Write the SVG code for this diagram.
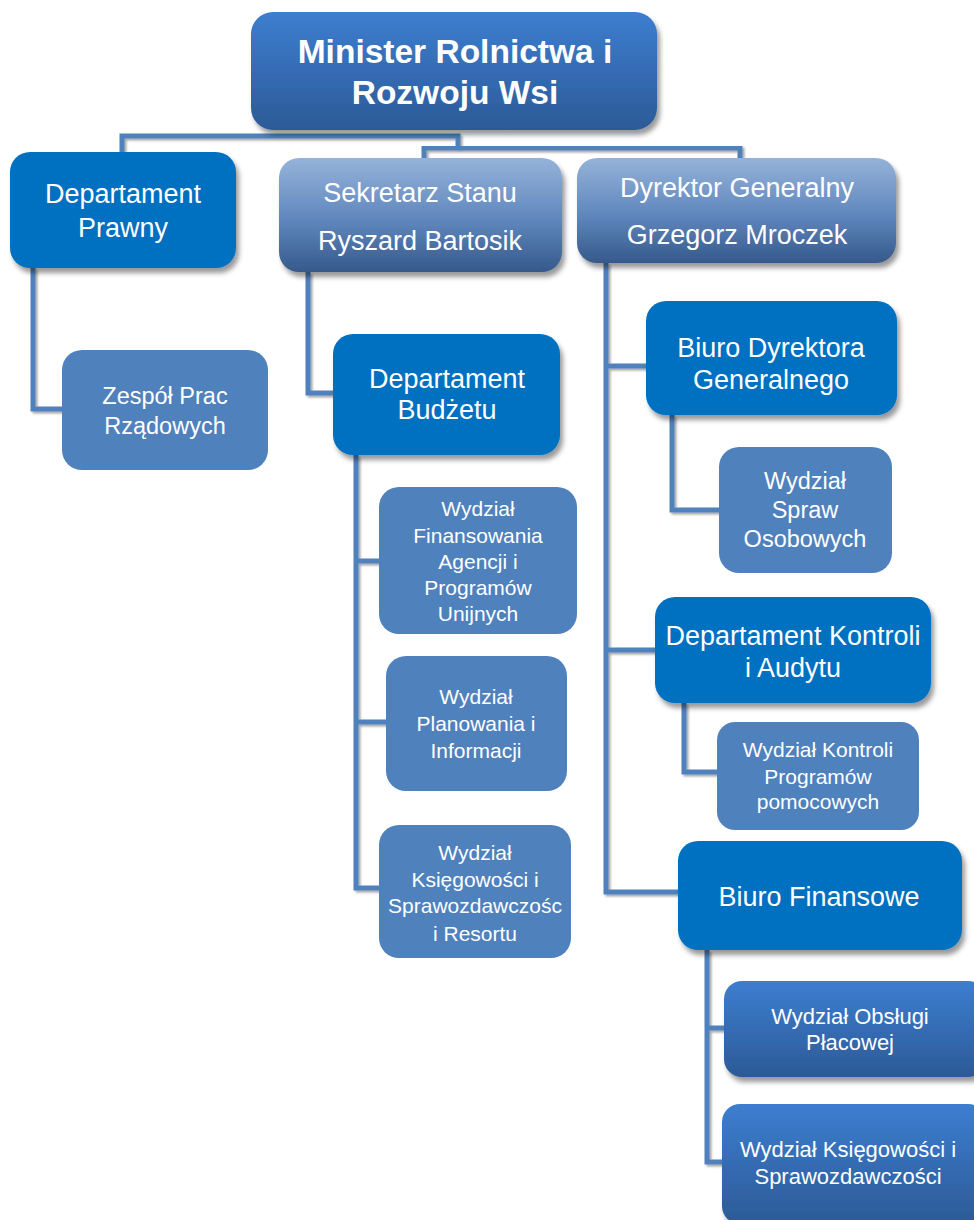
<svg xmlns="http://www.w3.org/2000/svg" width="974" height="1220" viewBox="0 0 974 1220">
<defs>
<linearGradient id="gTop" x1="0" y1="0" x2="0" y2="1">
<stop offset="0" stop-color="#3d7ed0"/><stop offset="1" stop-color="#2c5a97"/>
</linearGradient>
<linearGradient id="gLight" x1="0" y1="0" x2="0" y2="1">
<stop offset="0" stop-color="#95b3d9"/><stop offset="0.55" stop-color="#5f86bd"/><stop offset="1" stop-color="#36598a"/>
</linearGradient>
<filter id="sh" x="-10%" y="-10%" width="125%" height="130%">
<feDropShadow dx="3" dy="5" stdDeviation="2.5" flood-color="#000" flood-opacity="0.4"/>
</filter>
<filter id="lsh" x="-20%" y="-20%" width="140%" height="140%">
<feDropShadow dx="2" dy="2" stdDeviation="1" flood-color="#000" flood-opacity="0.35"/>
</filter>
</defs>
<style>
.ln{fill:none;stroke:#4f81bd;stroke-width:5;filter:url(#lsh)}
.dk{fill:#0070c0;filter:url(#sh)}
.md{fill:#4f81bd}
.gt{fill:url(#gTop);filter:url(#sh)}
.gl{fill:url(#gLight);filter:url(#sh)}
text{font-family:"Liberation Sans",Arial,sans-serif;fill:#fff;text-anchor:middle}
.t1{font-size:33.5px;font-weight:bold}
.t3{font-size:27px}
.t4{font-size:23.5px}
.t5{font-size:21px}
.t6{font-size:22px}
</style>
<rect width="974" height="1220" fill="#fff"/>
<g id="connectors">
<path class="ln" d="M122,153 V136 H458 V148"/>
<path class="ln" d="M424,158 V148 H740 V158"/>
<path class="ln" d="M33,268 V409 H62"/>
<path class="ln" d="M308,272 V393 H333"/>
<path class="ln" d="M356,455 V888 H380 M356,561 H380 M356,722 H386"/>
<path class="ln" d="M606,263 V892 H678 M606,366 H646 M606,650 H656"/>
<path class="ln" d="M672,415 V510 H719"/>
<path class="ln" d="M684,703 V772 H717"/>
<path class="ln" d="M707,950 V1162 H722 M707,1028 H724"/>
</g>
<g id="minister">
<rect class="gt" x="251" y="12" width="406" height="118" rx="22"/>
<text class="t1" x="455" y="63">Minister Rolnictwa i</text>
<text class="t1" x="455" y="104">Rozwoju Wsi</text>
</g>
<g id="dep-prawny">
<rect class="dk" x="10" y="152" width="226" height="116" rx="20"/>
<text class="t3" x="123" y="203">Departament</text>
<text class="t3" x="123" y="237">Prawny</text>
</g>
<g id="sekretarz">
<rect class="gl" x="279" y="158" width="283" height="114" rx="20"/>
<text class="t3" x="420" y="202">Sekretarz Stanu</text>
<text class="t3" x="420" y="250">Ryszard Bartosik</text>
</g>
<g id="dyrektor">
<rect class="gl" x="577" y="158" width="319" height="105" rx="20"/>
<text class="t3" x="737" y="197">Dyrektor Generalny</text>
<text class="t3" x="737" y="244">Grzegorz Mroczek</text>
</g>
<g id="zespol">
<rect class="md" x="62" y="350" width="206" height="120" rx="20"/>
<text class="t4" x="165" y="404">Zespół Prac</text>
<text class="t4" x="165" y="434">Rządowych</text>
</g>
<g id="dep-budzetu">
<rect class="dk" x="333" y="334" width="227" height="121" rx="20"/>
<text class="t3" x="447" y="388">Departament</text>
<text class="t3" x="447" y="419">Budżetu</text>
</g>
<g id="wydz-finansowania">
<rect class="md" x="379" y="487" width="198" height="147" rx="20"/>
<text class="t5" x="478" y="516">Wydział</text>
<text class="t5" x="478" y="543">Finansowania</text>
<text class="t5" x="478" y="569">Agencji i</text>
<text class="t5" x="478" y="595">Programów</text>
<text class="t5" x="478" y="621">Unijnych</text>
</g>
<g id="wydz-planowania">
<rect class="md" x="386" y="656" width="181" height="135" rx="20"/>
<text class="t5" x="476" y="704">Wydział</text>
<text class="t5" x="476" y="731">Planowania i</text>
<text class="t5" x="476" y="758">Informacji</text>
</g>
<g id="wydz-ksiegowosci-resortu">
<rect class="md" x="379" y="825" width="192" height="133" rx="20"/>
<text class="t5" x="475" y="860">Wydział</text>
<text class="t5" x="475" y="887">Księgowości i</text>
<text class="t5" x="475" y="913">Sprawozdawczośc</text>
<text class="t5" x="475" y="941">i Resortu</text>
</g>
<g id="biuro-dyrektora">
<rect class="dk" x="646" y="301" width="251" height="114" rx="20"/>
<text class="t3" x="771" y="357">Biuro Dyrektora</text>
<text class="t3" x="771" y="389">Generalnego</text>
</g>
<g id="wydz-spraw-osobowych">
<rect class="md" x="719" y="447" width="173" height="126" rx="20"/>
<text class="t4" x="805" y="489">Wydział</text>
<text class="t4" x="805" y="518">Spraw</text>
<text class="t4" x="805" y="547">Osobowych</text>
</g>
<g id="dep-kontroli">
<rect class="dk" x="655" y="597" width="276" height="106" rx="20"/>
<text class="t3" x="793" y="645">Departament Kontroli</text>
<text class="t3" x="793" y="677">i Audytu</text>
</g>
<g id="wydz-kontroli">
<rect class="md" x="717" y="722" width="202" height="108" rx="18"/>
<text class="t5" x="818" y="757">Wydział Kontroli</text>
<text class="t5" x="818" y="784">Programów</text>
<text class="t5" x="818" y="809">pomocowych</text>
</g>
<g id="biuro-finansowe">
<rect class="dk" x="678" y="841" width="284" height="109" rx="20"/>
<text class="t3" x="819" y="906">Biuro Finansowe</text>
</g>
<g id="wydz-obslugi">
<rect class="gt" x="724" y="981" width="262" height="96" rx="18"/>
<text class="t6" x="850" y="1024">Wydział Obsługi</text>
<text class="t6" x="850" y="1050">Płacowej</text>
</g>
<g id="wydz-ksiegowosci">
<rect class="gt" x="722" y="1104" width="264" height="120" rx="18"/>
<text class="t6" x="848" y="1157">Wydział Księgowości i</text>
<text class="t6" x="848" y="1184">Sprawozdawczości</text>
</g>
</svg>
